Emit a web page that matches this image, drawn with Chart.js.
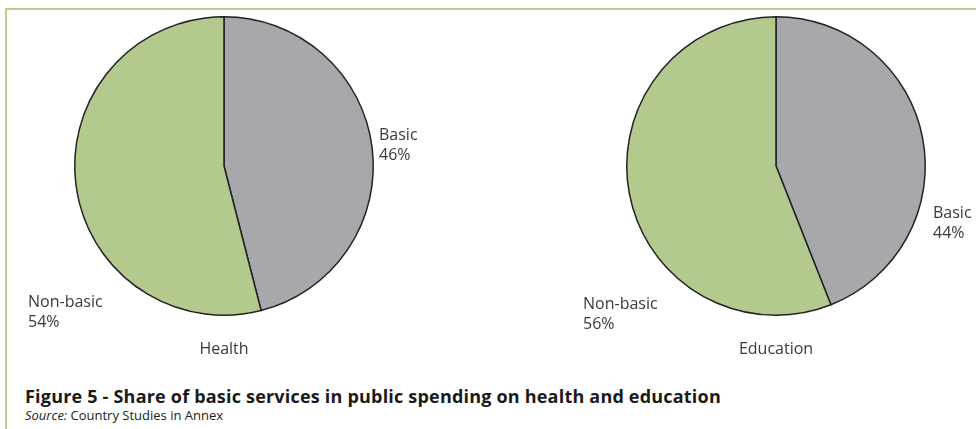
<!DOCTYPE html>
<html>
<head>
<meta charset="utf-8">
<script src="https://cdn.jsdelivr.net/npm/chart.js@4.4.1/dist/chart.umd.min.js"></script>
<style>
  body { margin: 0; background: #fff; width: 976px; height: 429px; overflow: hidden; position: relative; font-family: "Open Sans", "Noto Sans", sans-serif; color: #333; }
  .frame { position: absolute; left: 5px; top: 8px; width: 980px; height: 440px; border-left: 2px solid #b5d08f; border-top: 2px solid #b5d08f; }
  canvas { position: absolute; top: 0; }
  #title { position: absolute; left: 25px; top: 384px; font-weight: bold; font-size: 18px; letter-spacing: 0.2px; color: #1a1a1a; white-space: nowrap; }
  #source { position: absolute; left: 25px; top: 406px; font-size: 13px; color: #222; white-space: nowrap; }
</style>
</head>
<body>
<div class="frame"></div>
<canvas id="health" width="488" height="370" style="left:0"></canvas>
<canvas id="education" width="488" height="370" style="left:488px"></canvas>
<div id="title">Figure 5 - Share of basic services in public spending on health and education</div>
<div id="source"><i>Source:</i> Country Studies in Annex</div>
<script>
// shares of spending, basic first (drawn clockwise from 12 o'clock)
const categories = ['Basic', 'Non-basic'];
const healthShares = [46, 54];
const educationShares = [44, 56];
const sliceColors = ['#a7a8ac', '#b3c98d'];

// draws "Category / NN%" labels and the pie caption around the pie
const pieLabels = {
  id: 'pieLabels',
  afterDraw(chart, args, opts) {
    const ctx = chart.ctx;
    const arc = chart.getDatasetMeta(0).data[0];
    const cx = arc.x, cy = arc.y;
    const values = chart.data.datasets[0].data;
    ctx.save();
    ctx.fillStyle = '#3a3a3a';
    ctx.font = '16px "Open Sans", "Noto Sans", sans-serif';
    ctx.textBaseline = 'alphabetic';
    chart.data.labels.forEach((lab, i) => {
      const p = opts.spots[i];
      ctx.textAlign = 'left';
      ctx.fillText(lab, cx + p[0], cy + p[1]);
      ctx.fillText(values[i] + '%', cx + p[0], cy + p[1] + 20);
    });
    ctx.textAlign = 'center';
    ctx.fillText(opts.caption, cx, cy + 188);
    ctx.restore();
  }
};

function drawPie(id, shares, caption, padLeft, spots) {
  const ctx = document.getElementById(id).getContext('2d');
  return new Chart(ctx, {
    type: 'pie',
    data: {
      labels: categories,
      datasets: [{
        data: shares,
        backgroundColor: sliceColors,
        borderColor: '#222',
        borderWidth: 1.5
      }]
    },
    options: {
      responsive: false,
      animation: false,
      layout: { padding: { left: padLeft, top: 16, right: 488 - padLeft - 300, bottom: 54 } },
      plugins: {
        legend: { display: false },
        tooltip: { enabled: false },
        pieLabels: { caption: caption, spots: spots }
      }
    },
    plugins: [pieLabels]
  });
}

drawPie('health', healthShares, 'Health', 74, [[155, -26], [-196, 141]]);
drawPie('education', educationShares, 'Education', 138, [[157, 52], [-193, 143]]);
</script>
</body>
</html>
